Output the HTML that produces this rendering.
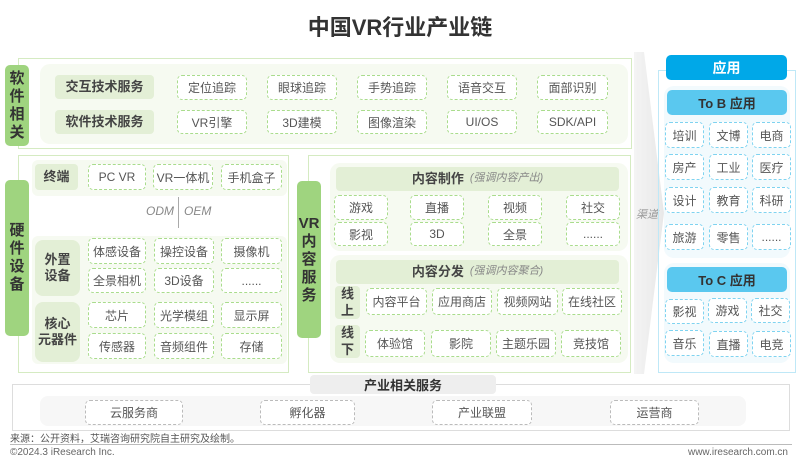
<!DOCTYPE html>
<html><head><meta charset="utf-8"><style>
*{margin:0;padding:0;box-sizing:border-box}
body{width:800px;height:464px;background:#fff;position:relative;overflow:hidden;font-family:"Liberation Sans","Noto Sans CJK SC",sans-serif;color:#444}
.a{position:absolute}
.d{position:absolute;border:1.5px dashed #a9dc8c;border-radius:5px;background:#fff;display:flex;align-items:center;justify-content:center;font-size:12px;color:#555;white-space:nowrap}
.db{border-color:#7fd3f0}
.dg{border-color:#bbb}
.lab{position:absolute;background:#e3efd6;border-radius:4px;display:flex;align-items:center;justify-content:center;font-weight:bold;font-size:13px;color:#444;text-align:center;line-height:1.25}
.pill{position:absolute;background:#9fd47f;border-radius:5px;display:flex;align-items:center;justify-content:center;font-weight:bold;font-size:15px;color:#333;text-align:center;line-height:1.2}
.bg{position:absolute;background:#f6faf1;border-radius:10px}
.gb{position:absolute;border:1.5px solid #d5ebc2}
</style></head><body>
<div class="a" style="left:0;top:10px;width:800px;text-align:center;font-size:22px;font-weight:bold;color:#333">中国VR行业产业链</div>

<!-- software -->
<div class="gb" style="left:18px;top:58px;width:614px;height:91px"></div>
<div class="bg" style="left:40px;top:64px;width:588px;height:80px"></div>
<div class="pill" style="left:5px;top:65px;width:24px;height:81px">软<br>件<br>相<br>关</div>
<div class="lab" style="left:55px;top:75px;width:99px;height:24px">交互技术服务</div>
<div class="lab" style="left:55px;top:110px;width:99px;height:24px">软件技术服务</div>
<div class="d" style="left:177px;top:75px;width:70px;height:25px">定位追踪</div>
<div class="d" style="left:267px;top:75px;width:70px;height:25px">眼球追踪</div>
<div class="d" style="left:357px;top:75px;width:70px;height:25px">手势追踪</div>
<div class="d" style="left:447px;top:75px;width:70px;height:25px">语音交互</div>
<div class="d" style="left:537px;top:75px;width:71px;height:25px">面部识别</div>
<div class="d" style="left:177px;top:110px;width:70px;height:24px">VR引擎</div>
<div class="d" style="left:267px;top:110px;width:70px;height:24px">3D建模</div>
<div class="d" style="left:357px;top:110px;width:70px;height:24px">图像渲染</div>
<div class="d" style="left:447px;top:110px;width:70px;height:24px">UI/OS</div>
<div class="d" style="left:537px;top:110px;width:71px;height:24px">SDK/API</div>

<!-- hardware -->
<div class="gb" style="left:18px;top:155px;width:271px;height:218px"></div>
<div class="pill" style="left:5px;top:180px;width:24px;height:156px">硬<br>件<br>设<br>备</div>
<div class="bg" style="left:32px;top:160px;width:255px;height:36px;border-radius:6px"></div>
<div class="lab" style="left:35px;top:164px;width:43px;height:26px">终端</div>
<div class="d" style="left:88px;top:164px;width:58px;height:26px">PC VR</div>
<div class="d" style="left:153px;top:164px;width:60px;height:26px">VR一体机</div>
<div class="d" style="left:221px;top:164px;width:61px;height:26px">手机盒子</div>
<div class="a" style="left:130px;top:204px;width:44px;text-align:right;font-size:12px;font-style:italic;color:#888">ODM</div>
<div class="a" style="left:178px;top:197px;width:1px;height:31px;background:#aaa"></div>
<div class="a" style="left:184px;top:204px;font-size:12px;font-style:italic;color:#888">OEM</div>
<div class="bg" style="left:32px;top:236px;width:255px;height:128px;border-radius:6px"></div>
<div class="lab" style="left:35px;top:240px;width:45px;height:56px;border-radius:8px">外置<br>设备</div>
<div class="lab" style="left:35px;top:302px;width:45px;height:60px;border-radius:8px">核心<br>元器件</div>
<div class="d" style="left:88px;top:238px;width:58px;height:26px">体感设备</div>
<div class="d" style="left:154px;top:238px;width:60px;height:26px">操控设备</div>
<div class="d" style="left:221px;top:238px;width:61px;height:26px">摄像机</div>
<div class="d" style="left:88px;top:268px;width:58px;height:25px">全景相机</div>
<div class="d" style="left:154px;top:268px;width:60px;height:25px">3D设备</div>
<div class="d" style="left:221px;top:268px;width:61px;height:25px">......</div>
<div class="d" style="left:88px;top:302px;width:58px;height:26px">芯片</div>
<div class="d" style="left:154px;top:302px;width:60px;height:26px">光学模组</div>
<div class="d" style="left:221px;top:302px;width:61px;height:26px">显示屏</div>
<div class="d" style="left:88px;top:333px;width:58px;height:26px">传感器</div>
<div class="d" style="left:154px;top:333px;width:60px;height:26px">音频组件</div>
<div class="d" style="left:221px;top:333px;width:61px;height:26px">存储</div>

<!-- VR content -->
<div class="gb" style="left:308px;top:155px;width:323px;height:218px"></div>
<div class="pill" style="left:297px;top:181px;width:24px;height:157px">VR<br>内<br>容<br>服<br>务</div>
<div class="bg" style="left:330px;top:163px;width:298px;height:88px"></div>
<div class="lab" style="left:336px;top:167px;width:283px;height:24px;font-size:13px">内容制作 <span style="font-weight:normal;font-style:italic;font-size:11px;color:#888;margin-left:6px">(强调内容产出)</span></div>
<div class="d" style="left:334px;top:195px;width:54px;height:25px">游戏</div>
<div class="d" style="left:410px;top:195px;width:54px;height:25px">直播</div>
<div class="d" style="left:488px;top:195px;width:54px;height:25px">视频</div>
<div class="d" style="left:566px;top:195px;width:54px;height:25px">社交</div>
<div class="d" style="left:334px;top:222px;width:54px;height:24px">影视</div>
<div class="d" style="left:410px;top:222px;width:54px;height:24px">3D</div>
<div class="d" style="left:488px;top:222px;width:54px;height:24px">全景</div>
<div class="d" style="left:566px;top:222px;width:54px;height:24px">......</div>
<div class="bg" style="left:330px;top:255px;width:298px;height:108px"></div>
<div class="lab" style="left:336px;top:260px;width:283px;height:24px">内容分发 <span style="font-weight:normal;font-style:italic;font-size:11px;color:#888;margin-left:6px">(强调内容聚合)</span></div>
<div class="lab" style="left:335px;top:286px;width:25px;height:33px">线<br>上</div>
<div class="lab" style="left:335px;top:325px;width:25px;height:33px">线<br>下</div>
<div class="d" style="left:366px;top:288px;width:61px;height:27px">内容平台</div>
<div class="d" style="left:432px;top:288px;width:60px;height:27px">应用商店</div>
<div class="d" style="left:497px;top:288px;width:61px;height:27px">视频网站</div>
<div class="d" style="left:562px;top:288px;width:60px;height:27px">在线社区</div>
<div class="d" style="left:365px;top:330px;width:60px;height:27px">体验馆</div>
<div class="d" style="left:431px;top:330px;width:60px;height:27px">影院</div>
<div class="d" style="left:496px;top:330px;width:60px;height:27px">主题乐园</div>
<div class="d" style="left:561px;top:330px;width:60px;height:27px">竞技馆</div>

<!-- arrow -->
<svg class="a" style="left:632px;top:52px" width="34" height="322"><defs><linearGradient id="g" x1="0" x2="1"><stop offset="0" stop-color="#f4f4f4"/><stop offset="1" stop-color="#e8e8e8"/></linearGradient></defs><polygon points="2,0 12,0 32,161 12,322 2,322" fill="url(#g)"/></svg>
<div class="a" style="left:636px;top:206px;font-size:11px;font-style:italic;color:#999">渠道</div>

<!-- application -->
<div class="a" style="left:658px;top:70px;width:138px;height:303px;border:1.5px solid #bfe8f7"></div>
<div class="a" style="left:666px;top:55px;width:121px;height:25px;background:#00a8e8;border-radius:5px;color:#fff;font-weight:bold;font-size:14px;display:flex;align-items:center;justify-content:center">应用</div>
<div class="a" style="left:664px;top:86px;width:126px;height:172px;background:#f2fafd;border-radius:10px"></div>
<div class="a" style="left:667px;top:90px;width:120px;height:25px;background:#5ac8ef;border-radius:5px;color:#333;font-weight:bold;font-size:13px;display:flex;align-items:center;justify-content:center">To B 应用</div>
<div class="d db" style="left:665px;top:122px;width:39px;height:26px">培训</div>
<div class="d db" style="left:709px;top:122px;width:39px;height:26px">文博</div>
<div class="d db" style="left:752px;top:122px;width:39px;height:26px">电商</div>
<div class="d db" style="left:665px;top:154px;width:39px;height:26px">房产</div>
<div class="d db" style="left:709px;top:154px;width:39px;height:26px">工业</div>
<div class="d db" style="left:752px;top:154px;width:39px;height:26px">医疗</div>
<div class="d db" style="left:665px;top:187px;width:39px;height:26px">设计</div>
<div class="d db" style="left:709px;top:187px;width:39px;height:26px">教育</div>
<div class="d db" style="left:752px;top:187px;width:39px;height:26px">科研</div>
<div class="d db" style="left:665px;top:224px;width:39px;height:26px">旅游</div>
<div class="d db" style="left:709px;top:224px;width:39px;height:26px">零售</div>
<div class="d db" style="left:752px;top:224px;width:39px;height:26px">......</div>
<div class="a" style="left:664px;top:263px;width:126px;height:100px;background:#f2fafd;border-radius:10px"></div>
<div class="a" style="left:667px;top:267px;width:120px;height:25px;background:#5ac8ef;border-radius:5px;color:#333;font-weight:bold;font-size:13px;display:flex;align-items:center;justify-content:center">To C 应用</div>
<div class="d db" style="left:665px;top:299px;width:39px;height:25px">影视</div>
<div class="d db" style="left:708px;top:298px;width:39px;height:25px">游戏</div>
<div class="d db" style="left:751px;top:298px;width:39px;height:25px">社交</div>
<div class="d db" style="left:665px;top:330px;width:39px;height:26px">音乐</div>
<div class="d db" style="left:709px;top:331px;width:39px;height:26px">直播</div>
<div class="d db" style="left:752px;top:331px;width:39px;height:26px">电竞</div>

<!-- industry services -->
<div class="a" style="left:12px;top:384px;width:778px;height:47px;border:1.5px solid #ddd"></div>
<div class="a" style="left:40px;top:396px;width:706px;height:30px;background:#f7f7f7;border-radius:8px"></div>
<div class="a" style="left:310px;top:375px;width:186px;height:19px;background:#eee;border-radius:4px;font-weight:bold;font-size:13px;color:#333;display:flex;align-items:center;justify-content:center">产业相关服务</div>
<div class="d dg" style="left:85px;top:400px;width:98px;height:25px">云服务商</div>
<div class="d dg" style="left:260px;top:400px;width:95px;height:25px">孵化器</div>
<div class="d dg" style="left:432px;top:400px;width:100px;height:25px">产业联盟</div>
<div class="d dg" style="left:610px;top:400px;width:89px;height:25px">运营商</div>

<div class="a" style="left:10px;top:430px;font-size:10px;color:#555">来源：公开资料，艾瑞咨询研究院自主研究及绘制。</div>
<div class="a" style="left:10px;top:444px;width:782px;height:1px;background:#bbb"></div>
<div class="a" style="left:10px;top:447px;font-size:10px;color:#666">©2024.3 iResearch Inc.</div>
<div class="a" style="right:12px;top:447px;font-size:10px;color:#666">www.iresearch.com.cn</div>
</body></html>
